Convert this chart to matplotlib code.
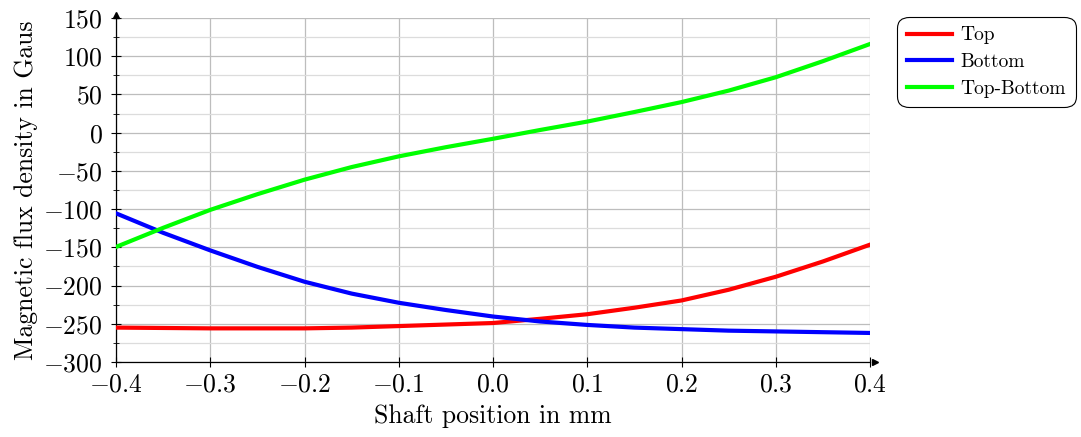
import numpy as np
import matplotlib.pyplot as plt
from matplotlib.ticker import MultipleLocator

# ===================================================================
# DATOS
# ===================================================================
shaft_pos = [-0.40, -0.35, -0.30, -0.25, -0.20, -0.15, -0.10, -0.05, 0.00,
             0.05, 0.10, 0.15, 0.20, 0.25, 0.30, 0.35, 0.40]

top = [-255, -255.5, -256, -256, -256, -255, -253, -251, -249,
       -243.5, -237.5, -229, -219.5, -205.5, -188.5, -168.5, -146.5]

bottom = [-105.5, -131, -154, -175.5, -195, -210.5, -222.5, -232, -240.5,
          -247, -251.5, -255, -257, -259, -260, -261, -262]

top_bottom = [-149.5, -124.5, -101, -80.5, -61.5, -45, -31, -19, -8,
              3.5, 14.5, 27, 40, 55, 72.5, 93.5, 116]

x_ticks = [-0.4, -0.3, -0.2, -0.1, 0.0, 0.1, 0.2, 0.3, 0.4]
y_ticks = [-300, -250, -200, -150, -100, -50, 0, 50, 100, 150]

# ===================================================================
# ESTILO
# ===================================================================
plt.rcParams['font.family'] = 'cmr10'
plt.rcParams['mathtext.fontset'] = 'cm'
plt.rcParams['axes.unicode_minus'] = False

fig = plt.figure(figsize=(10.81, 4.37), dpi=100)
ax = fig.add_axes([116 / 1081, 1 - 362 / 437, (870 - 116) / 1081, (362 - 18) / 437])

ax.plot(shaft_pos, top, color="#ff0000", lw=3, label="Top", zorder=3,
        solid_joinstyle="round")
ax.plot(shaft_pos, bottom, color="#0000ff", lw=3, label="Bottom", zorder=3,
        solid_joinstyle="round")
ax.plot(shaft_pos, top_bottom, color="#00ff00", lw=3, label="Top-Bottom", zorder=3,
        solid_joinstyle="round")

ax.set_xlim(-0.4, 0.4)
ax.set_ylim(-300, 150)

ax.set_xticks(x_ticks)
ax.set_xticklabels([f"${v:.1f}$" for v in x_ticks])
ax.set_yticks(y_ticks)
ax.set_yticklabels([f"${v}$" for v in y_ticks])
ax.yaxis.set_minor_locator(MultipleLocator(25))

ax.tick_params(axis="both", which="major", direction="inout", length=7,
               width=0.8, labelsize=18.5, pad=4)
ax.tick_params(axis="y", which="minor", direction="inout", length=5, width=0.6)
ax.tick_params(axis="y", pad=6)

ax.grid(True, which="major", color="#bdbdbd", lw=0.9)
ax.grid(True, which="minor", axis="y", color="#dcdcdc", lw=0.9)
ax.set_axisbelow(True)

for side in ["top", "right"]:
    ax.spines[side].set_visible(False)
for side in ["left", "bottom"]:
    ax.spines[side].set_linewidth(0.9)

# puntas de flecha de los ejes
ax.plot([0], [1.008], marker="^", color="black", markersize=5,
        transform=ax.transAxes, clip_on=False, zorder=5)
ax.plot([1.006], [0], marker=">", color="black", markersize=5,
        transform=ax.transAxes, clip_on=False, zorder=5)

ax.set_xlabel("Shaft position in mm", fontsize=18.5, labelpad=6)
ax.set_ylabel("Magnetic flux density in Gaus", fontsize=18.5, labelpad=4)

leg = ax.legend(loc="upper left", bbox_to_anchor=(1.036, 1.004), fontsize=14,
                handlelength=2.3, handletextpad=0.45, labelspacing=0.45,
                borderpad=0.5, borderaxespad=0, fancybox=True, framealpha=1,
                edgecolor="black")
leg.get_frame().set_linewidth(0.8)
leg.get_frame().set_boxstyle("round", pad=0, rounding_size=0.6)

fig.savefig("out.png", dpi=100)
